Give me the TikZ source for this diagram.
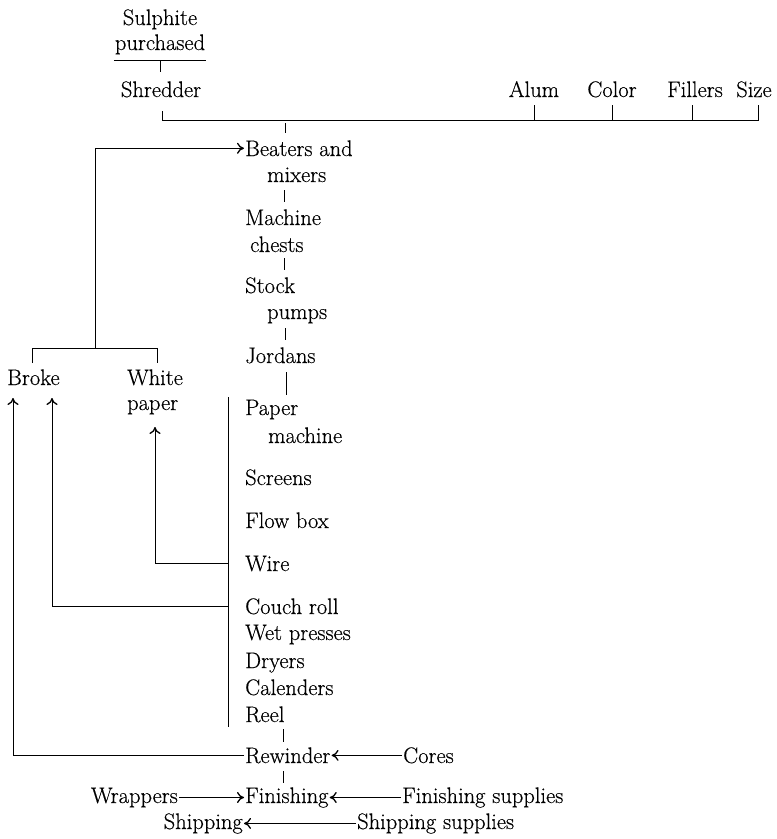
\documentclass[tikz,border=0pt]{standalone}
\usepackage{fontspec}
\setmainfont{Latin Modern Roman}[FakeBold=0.4]
\usetikzlibrary{arrows.meta,calc}
\begin{document}
\begin{tikzpicture}[x=1pt,y=-1pt,
  lbl/.style={inner xsep=1pt,inner ysep=0pt,anchor=base west,font=\fontsize{22.5}{27}\selectfont},
  lblc/.style={lbl,anchor=base},
  lble/.style={lbl,anchor=base east},
  ln/.style={line width=0.9pt},
  arr/.style={ln,-{To[length=7pt,width=11pt,line width=1.3pt]}}]
\useasboundingbox (0,0) rectangle (777,839);

% top inputs
\node[lblc] (sul) at (160,25) {Sulphite};
\node[lblc] (pur) at (160,50) {purchased};
\node[lblc] (shr) at (161,97) {Shredder};
\node[lblc] (alum) at (534,97) {Alum};
\node[lblc] (color) at (612,97) {Color};
\node[lblc] (fill) at (695,97) {Fillers};
\node[lblc] (size) at (754,97) {Size};
\draw[ln] ($(pur.base west)+(0,10)$) -- ($(pur.base east)+(0,10)$);
\draw[ln] ($(pur.base)+(0,10)$) -- ($(pur.base)+(0,22)$);

\coordinate (bus) at (0,120);
\coordinate (tk) at (0,105);
\draw[ln] ($(shr.base)+(1,14)$) -- ($(shr.base)+(1,23)$) -- (758,120) -- (758,105);
\draw[ln] (alum.base |- tk) -- (alum.base |- bus);
\draw[ln] (color.base |- tk) -- (color.base |- bus);
\draw[ln] ($(fill.base |- tk)+(-3,0)$) -- ($(fill.base |- bus)+(-3,0)$);

% main column
\node[lbl] (bea) at (244,156) {Beaters and};
\node[lbl] (mix) at (266,182) {mixers};
\node[lbl] (mac) at (244,225) {Machine};
\node[lbl] (che) at (249,252) {chests};
\node[lbl] (sto) at (244,293) {Stock};
\node[lbl] (pum) at (266,319) {pumps};
\node[lbl] (jor) at (244,363) {Jordans};
\node[lbl] (pap) at (244,415) {Paper};
\node[lbl] (pma) at (267,443) {machine};
\node[lbl] (scr) at (244,485) {Screens};
\node[lbl] (flo) at (244,528) {Flow box};
\node[lbl] (wir) at (244,571) {Wire};
\node[lbl] (cou) at (244,614) {Couch roll};
\node[lbl] (wet) at (244,640) {Wet presses};
\node[lbl] (dry) at (244,668) {Dryers};
\node[lbl] (cal) at (244,695) {Calenders};
\node[lbl] (ree) at (244,722) {Reel};
\node[lbl] (rew) at (244,763) {Rewinder};
\node[lbl] (cor) at (402,763) {Cores};
\node[lbl] (fin) at (244,803) {Finishing};
\node[lble] (wra) at (179,803) {Wrappers};
\node[lbl] (fsu) at (401,803) {Finishing supplies};
\node[lble] (shi) at (244,829) {Shipping};
\node[lbl] (ssu) at (356,829) {Shipping supplies};

% ticks between steps
\draw[ln] (285,123) -- (285,133);
\draw[ln] (284,190) -- (284,202);
\draw[ln] (284,258) -- (284,270);
\draw[ln] (285,328) -- (285,340);
\draw[ln] (286,372) -- (286,395);
\draw[ln] (283,729) -- (283,742);
\draw[ln] (283,771) -- (283,783);

% paper machine bracket line
\coordinate (mtop) at (228,397);
\coordinate (mbot) at (228,727);
\draw[ln] (mtop) -- (mbot);

% returns
\node[lbl] (bro) at (6,385) {Broke};
\node[lbl] (whi) at (126,385) {White};
\node[lbl] (wpa) at (126,410) {paper};
\coordinate (bl) at (32,348);
\coordinate (br) at (157,348);
\draw[ln] ($(bl)+(0,15)$) -- (bl) -- (br) -- ($(br)+(0,15)$);
\coordinate (fb) at (95,348);
\draw[arr] (fb) |- (bea.west);

\coordinate (bro1) at (13,398);
\coordinate (bro2) at (52,398);
\coordinate (wpt) at (155,427);
\draw[arr] (wir.west -| mtop) -| (wpt);
\draw[arr] (cou.west -| mtop) -| (bro2);
\draw[arr] (rew.west) -| (bro1);

% bottom flows
\draw[arr] (cor.west |- rew.east) -- (rew.east);
\draw[arr] (fsu.west |- fin.east) -- (fin.east);
\draw[arr] (wra.east |- fin.west) -- (fin.west);
\draw[arr] (ssu.west |- shi.east) -- (shi.east);
\end{tikzpicture}
\end{document}
